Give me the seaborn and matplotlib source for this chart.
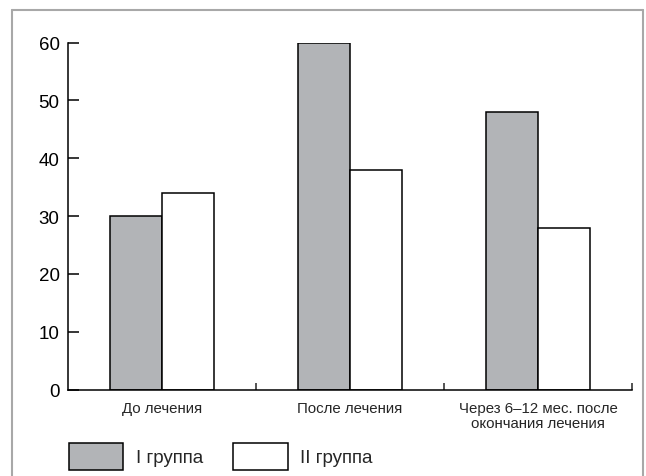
import matplotlib.pyplot as plt
import seaborn as sns
import pandas as pd
from matplotlib.patches import Patch
from matplotlib.lines import Line2D

# Данные
categories = ["До лечения", "После лечения", "Через 6–12 мес. после\nокончания лечения"]
groups = ["I группа", "II группа"]
group1 = [30, 60, 48]
group2 = [34, 38, 28]

df = pd.DataFrame({
    "Период": categories * 2,
    "Группа": [groups[0]] * 3 + [groups[1]] * 3,
    "Значение": group1 + group2,
})

sns.set_style("white")
plt.rcParams["font.family"] = ["Liberation Sans", "DejaVu Sans"]

fig = plt.figure(figsize=(6.46, 4.77), dpi=100)
ax = fig.add_axes([68 / 646, 1 - 390.5 / 477, (632 - 68) / 646, (390.5 - 43.5) / 477])

gray = "#b2b4b7"
sns.barplot(
    data=df, x="Период", y="Значение", hue="Группа",
    palette=[gray, "white"], width=0.553, edgecolor="black",
    linewidth=1.1, saturation=1, legend=False, ax=ax
)

# Оси
ax.set_xlim(-0.5, 2.5)
ax.set_ylim(0, 60)
ax.set_yticks([0, 10, 20, 30, 40, 50, 60])
ax.set_xlabel("")
ax.set_ylabel("")
for s in ["top", "right"]:
    ax.spines[s].set_visible(False)
for s in ["left", "bottom"]:
    ax.spines[s].set_color("black")
    ax.spines[s].set_linewidth(1.1)
ax.tick_params(axis="y", left=True, direction="in", length=7.8, width=1.1,
               labelsize=13.5, pad=6, colors="black")
ax.tick_params(axis="x", which="major", bottom=False, length=0, labelsize=10.8, pad=8)
ax.set_xticks([0.5, 1.5, 2.5], minor=True)
ax.tick_params(axis="x", which="minor", bottom=True, direction="in", length=5, width=1.1)
for lbl in ax.get_xticklabels():
    lbl.set_linespacing(1.1)

# Легенда
handles = [
    Patch(facecolor=gray, edgecolor="black", linewidth=1.1, label=groups[0]),
    Patch(facecolor="white", edgecolor="black", linewidth=1.1, label=groups[1]),
]
fig.legend(
    handles=handles, loc="upper left", bbox_to_anchor=(69 / 646, 1 - 443.5 / 477),
    ncol=2, frameon=False, fontsize=13.5, handlelength=2.9, handleheight=1.9,
    handletextpad=0.67, columnspacing=1.6, borderpad=0, borderaxespad=0
)

# Рамка
frame_color = "#a8a8a8"
fig.add_artist(Line2D([12 / 646, 12 / 646], [0, 1 - 11 / 477], transform=fig.transFigure, color=frame_color, lw=1.5))
fig.add_artist(Line2D([12 / 646, 643 / 646], [1 - 11 / 477, 1 - 11 / 477], transform=fig.transFigure, color=frame_color, lw=1.5))
fig.add_artist(Line2D([643 / 646, 643 / 646], [0, 1 - 11 / 477], transform=fig.transFigure, color=frame_color, lw=1.5))

fig.savefig("out.png", dpi=100)
